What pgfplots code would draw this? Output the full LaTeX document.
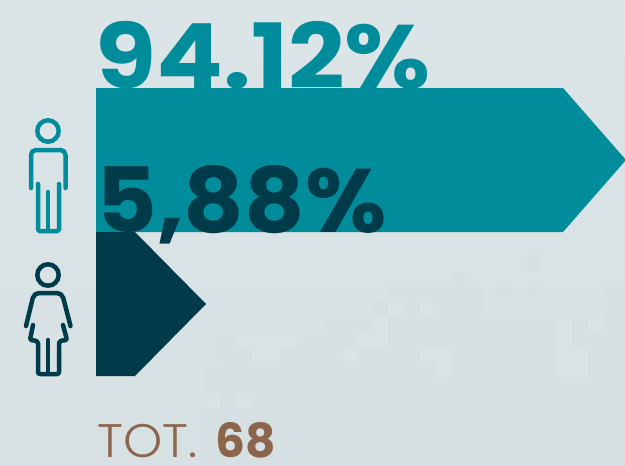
\documentclass[border=0pt]{standalone}
\usepackage{pgfplots}
\pgfplotsset{compat=1.18}
\usepackage{fontspec}
\setmainfont{Poppins}
\newfontfamily\lightf{Poppins Light}
\definecolor{teal}{HTML}{008C9B}
\definecolor{navy}{HTML}{003B4A}
\definecolor{brown}{HTML}{8C654D}
\definecolor{bgtop}{HTML}{DBE4E7}
\definecolor{bgmid}{HTML}{D7E0E3}
\definecolor{bgbot}{HTML}{D6DFE2}
\definecolor{tile}{HTML}{D9E2E5}
\begin{document}
\begin{tikzpicture}
\begin{axis}[
  width=625pt, height=466pt, scale only axis,
  xmin=0, xmax=625, ymin=0, ymax=466, y dir=reverse,
  hide axis, clip=true,
]
% background
\shade[top color=bgtop, bottom color=bgmid] (axis cs:0,0) rectangle (axis cs:625,466);
\fill[bgbot] (axis cs:205,466) -- (axis cs:205,363) -- (axis cs:220,363) -- (axis cs:220,332) -- (axis cs:327,332) -- (axis cs:327,317) -- (axis cs:373,317) -- (axis cs:373,302) -- (axis cs:388,302) -- (axis cs:388,287) -- (axis cs:450,287) -- (axis cs:450,272) -- (axis cs:465,272) -- (axis cs:465,287) -- (axis cs:482,287) -- (axis cs:482,317) -- (axis cs:603,317) -- (axis cs:603,287) -- (axis cs:625,287) -- (axis cs:625,466) -- cycle;
\fill[tile] (axis cs:235,332) rectangle (axis cs:297,347);
\fill[tile] (axis cs:252,347) rectangle (axis cs:280,362);
\fill[tile] (axis cs:343,348) rectangle (axis cs:358,362);
\fill[tile] (axis cs:358,332) rectangle (axis cs:388,347);
\fill[tile] (axis cs:373,317) rectangle (axis cs:388,332);
\fill[tile] (axis cs:388,302) rectangle (axis cs:403,317);
\fill[tile] (axis cs:420,302) rectangle (axis cs:433,317);
\fill[tile] (axis cs:420,348) rectangle (axis cs:450,362);
\fill[tile] (axis cs:435,362) rectangle (axis cs:450,378);
\fill[tile] (axis cs:558,317) rectangle (axis cs:572,378);
\fill[tile] (axis cs:572,347) rectangle (axis cs:588,378);
\fill[tile] (axis cs:588,317) rectangle (axis cs:603,332);
\fill[tile] (axis cs:558,240) rectangle (axis cs:572,255);
\fill[tile] (axis cs:205,393) rectangle (axis cs:220,408);
\fill[tile] (axis cs:235,393) rectangle (axis cs:250,408);
\fill[bgbot] (axis cs:495,287) rectangle (axis cs:512,302);
\fill[bgbot] (axis cs:527,287) rectangle (axis cs:542,302);
\fill[bgbot] (axis cs:527,255) rectangle (axis cs:542,272);
% large label sits under its bar
\node[anchor=base west, inner sep=0pt, xscale=1.1, text=teal, font=\fontsize{90}{90}\selectfont\bfseries] at (axis cs:95,88) {94.12\%};
\addplot[fill=teal, draw=none] coordinates {(96,88) (563,88) (626,160) (563,232) (96,232)} --cycle;
\node[anchor=base west, inner sep=0pt, xscale=1.04, text=navy, font=\fontsize{90}{90}\selectfont\bfseries] at (axis cs:96,232) {5,88\%};
\addplot[fill=navy, draw=none] coordinates {(96,232) (135,232) (206,304) (135,376) (96,376)} --cycle;
% man icon
\begin{scope}[draw=teal, line width=4.5pt, line cap=round, line join=round]
\draw (axis cs:48,131) circle[radius=10.7pt];
\draw[rounded corners=5pt] (axis cs:31,188) -- (axis cs:31,150) -- (axis cs:65.5,150) -- (axis cs:65.5,188);
\draw[rounded corners=1.5pt] (axis cs:38,184) -- (axis cs:38,231) -- (axis cs:59,231) -- (axis cs:59,184);
\draw (axis cs:48,192) -- (axis cs:48,231);
\end{scope}
% woman icon
\begin{scope}[draw=navy, line width=4.5pt, line cap=round, line join=round]
\draw (axis cs:48,275) circle[radius=10.7pt];
\draw[rounded corners=5pt] (axis cs:26,326) -- (axis cs:34,293) -- (axis cs:62,293) -- (axis cs:70.5,326);
\draw[rounded corners=2pt] (axis cs:33,325) -- (axis cs:30,340) -- (axis cs:38,341) -- (axis cs:38,374) -- (axis cs:59,374) -- (axis cs:59,341) -- (axis cs:67,340) -- (axis cs:63,325);
\draw (axis cs:48,340) -- (axis cs:48,374);
\end{scope}
\node[anchor=base west, inner sep=0pt, xscale=1.06, text=brown, font=\fontsize{47}{47}\selectfont\lightf] at (axis cs:97,457) {TOT.};
\node[anchor=base west, inner sep=0pt, text=brown, font=\fontsize{47}{47}\selectfont\bfseries] at (axis cs:215,457) {68};
\end{axis}
\end{tikzpicture}
\end{document}
